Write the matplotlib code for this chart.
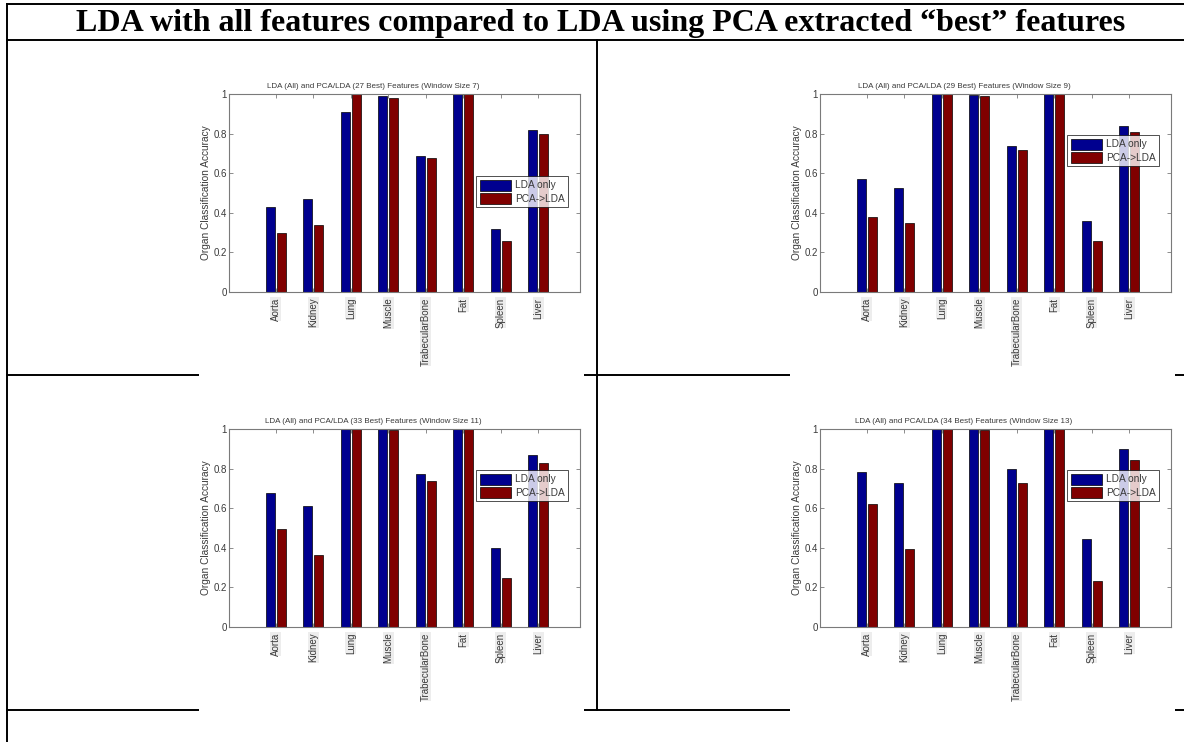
import matplotlib
matplotlib.use("Agg")
import matplotlib.pyplot as plt
from matplotlib.lines import Line2D
from matplotlib.patches import Rectangle
import numpy as np

# ---- data ---------------------------------------------------------------
organs = ["Aorta", "Kidney", "Lung", "Muscle", "TrabecularBone", "Fat", "Spleen", "Liver"]
series_names = ["LDA only", "PCA->LDA"]

lda_w7 = [0.43, 0.47, 0.91, 0.99, 0.685, 1.00, 0.32, 0.82]
pca_w7 = [0.30, 0.34, 1.00, 0.98, 0.675, 1.00, 0.26, 0.80]

lda_w9 = [0.57, 0.525, 1.00, 0.995, 0.737, 1.00, 0.358, 0.838]
pca_w9 = [0.378, 0.35, 1.00, 0.99, 0.717, 1.00, 0.258, 0.809]

lda_w11 = [0.678, 0.61, 1.00, 1.00, 0.774, 1.00, 0.398, 0.87]
pca_w11 = [0.494, 0.366, 1.00, 0.995, 0.738, 1.00, 0.246, 0.83]

lda_w13 = [0.785, 0.725, 1.00, 1.00, 0.798, 1.00, 0.442, 0.897]
pca_w13 = [0.621, 0.394, 1.00, 0.995, 0.725, 1.00, 0.233, 0.842]

panel_titles = [
    "LDA (All) and PCA/LDA (27 Best) Features (Window Size 7)",
    "LDA (All) and PCA/LDA (29 Best) Features (Window Size 9)",
    "LDA (All) and PCA/LDA (33 Best) Features (Window Size 11)",
    "LDA (All) and PCA/LDA (34 Best) Features (Window Size 13)",
]
panel_data = [(lda_w7, pca_w7), (lda_w9, pca_w9), (lda_w11, pca_w11), (lda_w13, pca_w13)]
y_ticks = [0, 0.2, 0.4, 0.6, 0.8, 1]
y_tick_labels = ["0", "0.2", "0.4", "0.6", "0.8", "1"]
page_title = "LDA with all features compared to LDA using PCA extracted \u201cbest\u201d features"

# ---- page layout (pixels) ------------------------------------------------
W, H = 1184, 742
fig = plt.figure(figsize=(W / 100, H / 100), dpi=100)
fig.patch.set_facecolor("white")


def fx(px):
    return px / W


def fy(py):
    return 1 - py / H


def hline(y, x0, x1):
    fig.add_artist(Line2D([fx(x0), fx(x1)], [fy(y), fy(y)], color="black", lw=1.4, zorder=1))


def vline(x, y0, y1):
    fig.add_artist(Line2D([fx(x), fx(x)], [fy(y0), fy(y1)], color="black", lw=1.4, zorder=1))


# table grid
hline(4, 7, W)
hline(40, 7, W)
hline(375, 7, W)
hline(710, 7, W)
vline(7, 4, H)
vline(597, 40, 710)

fig.text(fx(601), fy(23), page_title, ha="center", va="center",
         fontsize=23, fontweight="bold", family="Liberation Serif", color="black")

# opaque panel backgrounds
panel_boxes = [(199, 55, 584, 382), (790, 55, 1175, 382),
               (199, 390, 584, 717), (790, 390, 1175, 717)]
for x0, y0, x1, y1 in panel_boxes:
    fig.add_artist(Rectangle((fx(x0), fy(y1)), fx(x1) - fx(x0), fy(y0) - fy(y1),
                             facecolor="white", edgecolor="none", zorder=1.5,
                             transform=fig.transFigure))

# axes rectangles: (left, right, top, bottom) in pixels
axes_px = [(229, 580, 94, 292), (820, 1171, 94, 292),
           (229, 580, 429, 627), (820, 1171, 429, 627)]
legend_top = [0.586, 0.793, 0.793, 0.793]

blue = "#00008f"
red = "#800000"
text_col = "#3a3a3a"
axis_col = "#7a7a7a"
fs_title = 5.8
fs_tick = 7.0
fs_label = 7.3
fs_leg = 7.3

x = np.arange(1, len(organs) + 1)
bw = 0.24
off = 0.147

for i, ((l, r, t, b), title, (s1, s2)) in enumerate(zip(axes_px, panel_titles, panel_data)):
    ax = fig.add_axes([fx(l), fy(b), fx(r) - fx(l), fy(t) - fy(b)], zorder=2)
    ax.bar(x - off, s1, width=bw, color=blue, edgecolor="black", linewidth=0.5, label=series_names[0])
    ax.bar(x + off, s2, width=bw, color=red, edgecolor="black", linewidth=0.5, label=series_names[1])
    ax.set_xlim(-0.25, 9.11)
    ax.set_ylim(0, 1)
    ax.set_yticks(y_ticks)
    ax.set_yticklabels(y_tick_labels, family="Liberation Sans")
    ax.set_xticks(x)
    ax.set_xticklabels(organs, rotation=90, va="top", ha="center", family="Liberation Sans")
    for lab in ax.get_xticklabels():
        lab.set_bbox(dict(facecolor="#ededed", edgecolor="none", pad=0.4))
    ax.tick_params(direction="in", length=3, width=0.6, color=axis_col,
                   labelsize=fs_tick, labelcolor=text_col, top=True, right=True)
    ax.tick_params(axis="x", pad=4.0)
    ax.tick_params(axis="y", pad=1.5)
    for sp in ax.spines.values():
        sp.set_color(axis_col)
        sp.set_linewidth(0.8)
    ax.set_ylabel("Organ Classification Accuracy", fontsize=fs_label, color=text_col,
                  labelpad=2, family="Liberation Sans")
    ax.text(0.41, 1.02, title, transform=ax.transAxes, ha="center", va="bottom",
            fontsize=fs_title, color=text_col, family="Liberation Sans")
    leg = ax.legend(loc="upper left", bbox_to_anchor=(0.704, legend_top[i]),
                    prop={"family": "Liberation Sans", "size": fs_leg},
                    frameon=True, fancybox=False, borderaxespad=0,
                    handlelength=3.1, handleheight=1.3, handletextpad=0.4,
                    labelspacing=0.22, borderpad=0.35)
    leg.get_frame().set_edgecolor("black")
    leg.get_frame().set_linewidth(0.6)
    for txt in leg.get_texts():
        txt.set_color(text_col)

fig.savefig("out.png", dpi=100, facecolor="white")
